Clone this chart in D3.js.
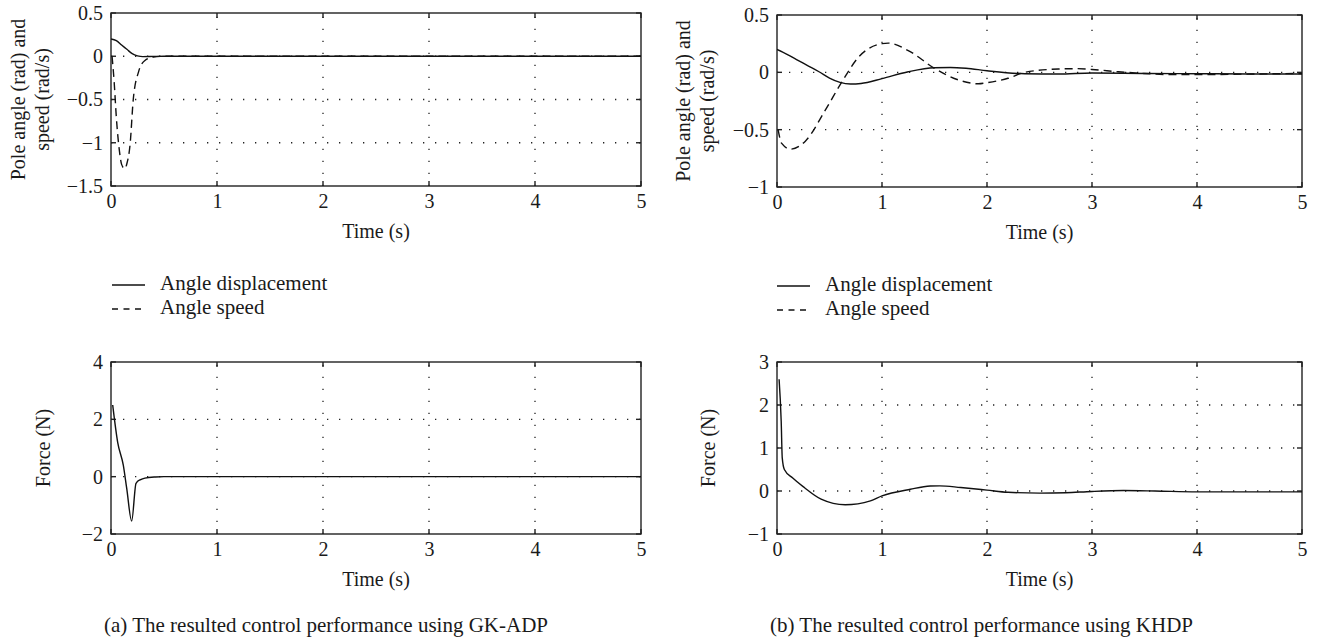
<!DOCTYPE html>
<html>
<head>
<meta charset="utf-8">
<script src="https://cdn.jsdelivr.net/npm/d3@7"></script>
<style>
  html, body { margin: 0; padding: 0; background: #fff; }
  svg { display: block; }
  text { font-family: "Liberation Serif", "DejaVu Serif", serif; fill: #1a1a1a; }
</style>
</head>
<body>
<svg id="chart" width="1327" height="642"></svg>
<script>
// ---------- data ----------
const xTicks = [0, 1, 2, 3, 4, 5];
const xLabel = "Time (s)";
const angleLabelLines = ["Pole angle (rad) and", "speed (rad/s)"];
const forceLabel = "Force (N)";
const legendLabels = ["Angle displacement", "Angle speed"];
const captions = ["(a)  The resulted control performance using GK-ADP", "(b)  The resulted control performance using KHDP"];

// (a) GK-ADP
const gkAngleTicks = [0.5, 0, -0.5, -1, -1.5];
const gkAngleTickLabels = ["0.5", "0", "\u22120.5", "\u22121", "\u22121.5"];
const gkDispT = [0, 0.05, 0.1, 0.13, 0.15, 0.2, 0.25, 0.3, 0.4, 0.5, 1, 2, 3, 4, 5];
const gkDispV = [0.2, 0.18, 0.13, 0.10, 0.08, 0.03, 0.005, -0.004, -0.002, 0, 0, 0, 0, 0, 0];
const gkSpeedT = [0.01, 0.03, 0.05, 0.08, 0.1, 0.13, 0.15, 0.18, 0.21, 0.26, 0.32, 0.4, 0.5, 1, 2, 3, 4, 5];
const gkSpeedV = [0, -0.3, -0.7, -1.1, -1.25, -1.3, -1.24, -1.02, -0.5, -0.18, -0.05, -0.01, 0, 0, 0, 0, 0, 0];
const gkForceTicks = [4, 2, 0, -2];
const gkForceTickLabels = ["4", "2", "0", "\u22122"];
const gkForceT = [0.016, 0.063, 0.116, 0.148, 0.195, 0.236, 0.28, 0.32, 0.42, 0.5, 1, 2, 3, 4, 5];
const gkForceV = [2.5, 1.2, 0.4, -0.4, -1.55, -0.23, -0.1, -0.05, -0.01, 0, 0, 0, 0, 0, 0];

// (b) KHDP
const khAngleTicks = [0.5, 0, -0.5, -1];
const khAngleTickLabels = ["0.5", "0", "\u22120.5", "\u22121"];
const khDispT = [0, 0.1, 0.2, 0.3, 0.4, 0.5, 0.6, 0.7, 0.8, 1.0, 1.25, 1.5, 1.65, 1.8, 2.0, 2.36, 2.68, 3.0, 3.5, 4.0, 4.5, 5.0];
const khDispV = [0.2, 0.155, 0.105, 0.055, 0.005, -0.05, -0.088, -0.102, -0.097, -0.055, 0.005, 0.04, 0.042, 0.035, 0.014, -0.012, -0.015, -0.006, -0.01, -0.012, -0.014, -0.015];
const khSpeedT = [0.01, 0.045, 0.13, 0.27, 0.46, 0.62, 0.78, 1.0, 1.06, 1.25, 1.5, 1.73, 1.92, 2.0, 2.2, 2.36, 2.68, 2.85, 3.0, 3.25, 3.5, 3.75, 4.0, 4.5, 5.0];
const khSpeedV = [-0.5, -0.62, -0.67, -0.60, -0.33, -0.08, 0.136, 0.25, 0.255, 0.19, 0.035, -0.067, -0.1, -0.09, -0.052, 0, 0.029, 0.032, 0.025, 0.005, -0.01, -0.02, -0.02, -0.015, -0.01];
const khForceTicks = [3, 2, 1, 0, -1];
const khForceTickLabels = ["3", "2", "1", "0", "\u22121"];
const khForceT = [0.02, 0.04, 0.05, 0.07, 0.15, 0.26, 0.42, 0.65, 0.89, 1.0, 1.27, 1.46, 1.55, 1.75, 2.0, 2.2, 2.5, 2.75, 3.0, 3.3, 3.6, 4.0, 4.5, 5.0];
const khForceV = [2.6, 1.62, 0.77, 0.5, 0.3, 0.08, -0.19, -0.32, -0.23, -0.115, 0.04, 0.115, 0.12, 0.08, 0.02, -0.03, -0.05, -0.04, -0.01, 0.01, 0.0, -0.02, -0.02, -0.02];

// ---------- drawing ----------
const svg = d3.select("#chart");
let clipId = 0;
const FS = 20;

function panel(o) {
  const x = d3.scaleLinear().domain([0, 5]).range([o.left, o.right]);
  const y = d3.scaleLinear().domain([o.yTicks[o.yTicks.length - 1], o.yTicks[0]]).range([o.bottom, o.top]);
  const g = svg.append("g");
  const id = "clip" + (clipId++);
  g.append("clipPath").attr("id", id).append("rect")
    .attr("x", o.left).attr("y", o.top).attr("width", o.right - o.left).attr("height", o.bottom - o.top);

  // grid
  const grid = g.append("g").attr("stroke", "#222").attr("stroke-width", 1.3).attr("stroke-dasharray", "1.3,10.7");
  xTicks.slice(1, -1).forEach(t => {
    grid.append("line").attr("x1", x(t)).attr("x2", x(t)).attr("y1", o.bottom).attr("y2", o.top);
  });
  o.yTicks.slice(1, -1).forEach(t => {
    grid.append("line").attr("x1", o.left).attr("x2", o.right).attr("y1", y(t)).attr("y2", y(t));
  });

  // axes (inward ticks on all sides)
  const tl = 5;
  const ax = g.append("g").attr("stroke", "#222").attr("stroke-width", 1.4);
  xTicks.forEach(t => {
    ax.append("line").attr("x1", x(t)).attr("x2", x(t)).attr("y1", o.bottom).attr("y2", o.bottom - tl);
    ax.append("line").attr("x1", x(t)).attr("x2", x(t)).attr("y1", o.top).attr("y2", o.top + tl);
  });
  o.yTicks.forEach(t => {
    ax.append("line").attr("x1", o.left).attr("x2", o.left + tl).attr("y1", y(t)).attr("y2", y(t));
    ax.append("line").attr("x1", o.right).attr("x2", o.right - tl).attr("y1", y(t)).attr("y2", y(t));
  });

  const xAxis = d3.axisBottom(x).tickValues(xTicks).tickSize(0).tickPadding(8).tickFormat(d3.format("d"));
  const xa = g.append("g").attr("transform", `translate(0,${o.bottom})`).call(xAxis);
  xa.select(".domain").remove();
  xa.selectAll("text").attr("font-size", FS).attr("font-family", "Liberation Serif").attr("fill", "#1a1a1a");

  const yAxis = d3.axisLeft(y).tickValues(o.yTicks).tickSize(0).tickPadding(8)
    .tickFormat((d, i) => o.yTickLabels[i]);
  const ya = g.append("g").attr("transform", `translate(${o.left},0)`).call(yAxis);
  ya.select(".domain").remove();
  ya.selectAll("text").attr("font-size", FS).attr("font-family", "Liberation Serif").attr("fill", "#1a1a1a");

  g.append("rect").attr("x", o.left).attr("y", o.top).attr("width", o.right - o.left).attr("height", o.bottom - o.top)
    .attr("fill", "none").attr("stroke", "#222").attr("stroke-width", 1.4);

  // series
  const line = d3.line().x(d => x(d[0])).y(d => y(d[1])).curve(d3.curveMonotoneX);
  const lines = g.append("g").attr("clip-path", `url(#${id})`);
  o.series.forEach(s => {
    lines.append("path").datum(d3.zip(s.t, s.v)).attr("d", line)
      .attr("fill", "none").attr("stroke", "#111").attr("stroke-width", 1.4)
      .attr("stroke-dasharray", s.dash ? "8,5" : null);
  });

  // labels
  g.append("text").attr("x", (o.left + o.right) / 2).attr("y", o.bottom + 52).attr("text-anchor", "middle")
    .attr("font-size", FS).text(xLabel);
  const cy = (o.top + o.bottom) / 2;
  o.yLabel.forEach((txt, i) => {
    const lx = o.yLabelX[i];
    g.append("text").attr("transform", `translate(${lx},${cy}) rotate(-90)`).attr("text-anchor", "middle")
      .attr("dominant-baseline", "middle").attr("font-size", FS).text(txt);
  });
}

function legend(lx, ly) {
  const g = svg.append("g");
  legendLabels.forEach((lab, i) => {
    const yy = ly + i * 24;
    g.append("line").attr("x1", lx).attr("x2", lx + 33).attr("y1", yy).attr("y2", yy)
      .attr("stroke", "#111").attr("stroke-width", 1.3).attr("stroke-dasharray", i === 1 ? "6,5.5" : null);
    g.append("text").attr("x", lx + 48).attr("y", yy).attr("dominant-baseline", "middle")
      .attr("font-size", 21).text(lab);
  });
}

// (a) top
panel({ left: 111, right: 641, top: 13, bottom: 186, yTicks: gkAngleTicks, yTickLabels: gkAngleTickLabels,
  yLabel: angleLabelLines, yLabelX: [20, 44],
  series: [{ t: gkDispT, v: gkDispV, dash: false }, { t: gkSpeedT, v: gkSpeedV, dash: true }] });
// (b) top
panel({ left: 777, right: 1302, top: 15, bottom: 187, yTicks: khAngleTicks, yTickLabels: khAngleTickLabels,
  yLabel: angleLabelLines, yLabelX: [685, 709],
  series: [{ t: khDispT, v: khDispV, dash: false }, { t: khSpeedT, v: khSpeedV, dash: true }] });
// (a) bottom
panel({ left: 111, right: 641, top: 362, bottom: 534, yTicks: gkForceTicks, yTickLabels: gkForceTickLabels,
  yLabel: [forceLabel], yLabelX: [45],
  series: [{ t: gkForceT, v: gkForceV, dash: false }] });
// (b) bottom
panel({ left: 777, right: 1302, top: 362, bottom: 534, yTicks: khForceTicks, yTickLabels: khForceTickLabels,
  yLabel: [forceLabel], yLabelX: [710],
  series: [{ t: khForceT, v: khForceV, dash: false }] });

legend(112, 285);
legend(777, 286);

svg.append("text").attr("x", 104).attr("y", 632).attr("font-size", 21).text(captions[0]);
svg.append("text").attr("x", 770).attr("y", 632).attr("font-size", 21).text(captions[1]);
</script>
</body>
</html>
